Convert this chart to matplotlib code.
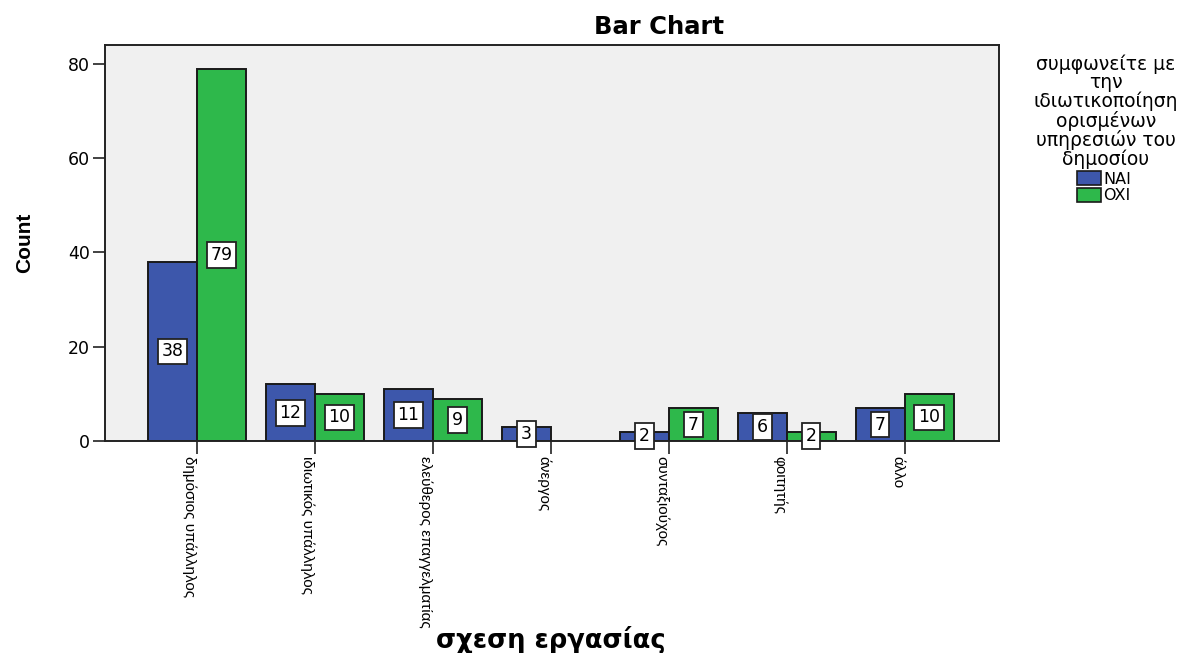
import matplotlib
matplotlib.use("Agg")
import matplotlib.pyplot as plt
from matplotlib.patches import Patch

# Data
categories = ["δημόσιος υπάλληλος", "ιδιωτικός υπάλληλος", "ελεύθερος επαγγελματίας",
              "άνεργος", "συνταξιούχος", "φοιτητής", "άλλο"]
nai = [38, 12, 11, 3, 2, 6, 7]
oxi = [79, 10, 9, 0, 7, 2, 10]
series_names = ["NAI", "OXI"]
legend_title = "συμφωνείτε με\nτην\nιδιωτικοποίηση\nορισμένων\nυπηρεσιών του\nδημοσίου"
y_ticks = [0, 20, 40, 60, 80]

blue = "#3D57AB"
green = "#2EB84B"
narrow = ["Liberation Sans Narrow", "Liberation Sans", "DejaVu Sans"]
wide = ["DejaVu Sans"]

fig = plt.figure(figsize=(12.02, 6.53), dpi=100)
ax = fig.add_axes([105 / 1202, 1 - 441 / 653, (999 - 105) / 1202, (441 - 45) / 653])
ax.set_facecolor("#F0F0F0")

w = 0.415
x = list(range(len(categories)))
for i, (a, b) in enumerate(zip(nai, oxi)):
    for val, off, col in ((a, -w / 2, blue), (b, w / 2, green)):
        if val == 0:
            continue
        ax.bar(i + off, val, width=w, color=col, edgecolor="#1a1a1a", linewidth=1.4, zorder=2)
        ax.text(i + off, val / 2, str(val), ha="center", va="center", fontsize=12.5,
                family=wide, zorder=3,
                bbox=dict(boxstyle="square,pad=0.22", fc="white", ec="#222222", lw=1.3))

ax.set_xlim(-0.78, 6.8)
ax.set_ylim(0, 84)
ax.set_yticks(y_ticks)
ax.set_yticklabels([str(t) for t in y_ticks], family=wide, fontsize=12.5)
ax.set_xticks(x)
ax.set_xticklabels(categories, rotation=270, ha="right", va="top", family=narrow, fontsize=11)
ax.tick_params(axis="both", length=9, width=1.2, color="#222222", pad=2)
for s in ax.spines.values():
    s.set_linewidth(1.4)
    s.set_color("#222222")

fig.text(25 / 1202, 1 - 243 / 653, "Count", rotation=90, ha="center", va="center",
         fontsize=15, fontweight="bold", family=narrow)
fig.text(551 / 1202, 1 - 640 / 653, "σχεση εργασίας", ha="center", va="center",
         fontsize=18.5, fontweight="bold", family=wide)
fig.text(659 / 1202, 1 - 27 / 653, "Bar Chart", ha="center", va="center",
         fontsize=17.5, fontweight="bold", family=wide)

# legend title as its own text block, entries below it
fig.text(1106 / 1202, 1 - 54 / 653, legend_title, ha="center", va="top", fontsize=13.5,
         family=wide, multialignment="center", linespacing=0.97)

handles = [Patch(facecolor=blue, edgecolor="#1a1a1a", lw=1.2),
           Patch(facecolor=green, edgecolor="#1a1a1a", lw=1.2)]
leg = fig.legend(handles, series_names, loc="upper center",
                 bbox_to_anchor=(1104 / 1202, 1 - 160 / 653), frameon=False,
                 prop={"family": wide, "size": 11.5}, handlelength=1.5, handleheight=1.0,
                 handletextpad=0.15, labelspacing=0.05, borderpad=0.2)

fig.savefig("out.png", dpi=100)
